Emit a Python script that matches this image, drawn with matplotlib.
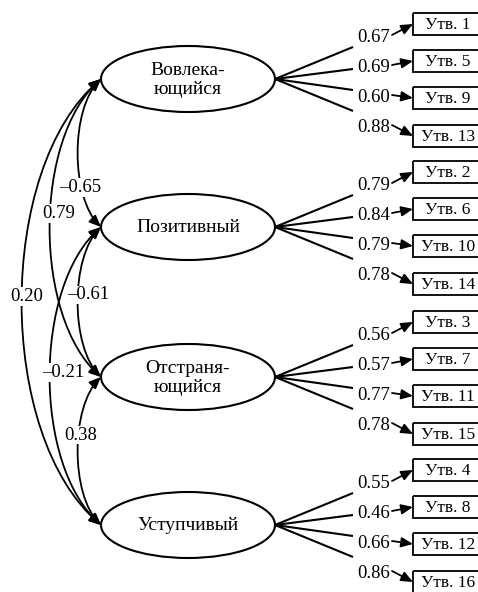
import matplotlib
matplotlib.use('Agg')
import matplotlib.pyplot as plt
from matplotlib.patches import Ellipse, Rectangle, FancyArrowPatch
from matplotlib.path import Path

plt.rcParams['font.family'] = ['Liberation Serif', 'DejaVu Serif']

# factors, items and loadings
factors = ['Вовлека-\nющийся', 'Позитивный', 'Отстраня-\nющийся', 'Уступчивый']
items = [[1, 5, 9, 13], [2, 6, 10, 14], [3, 7, 11, 15], [4, 8, 12, 16]]
loadings = [[0.67, 0.69, 0.60, 0.88],
            [0.79, 0.84, 0.79, 0.78],
            [0.56, 0.57, 0.77, 0.78],
            [0.55, 0.46, 0.66, 0.86]]

# correlations between factors: (from, to, value)
corr_from = [0, 0, 0, 1, 1, 2]
corr_to = [1, 2, 3, 2, 3, 3]
corr_vals = [-0.65, 0.79, 0.20, -0.61, -0.21, 0.38]

# layout (pixels)
cx, ew, eh = 188, 174, 66
cys = [79, 227, 377, 525]
fan_end = [-32, -10, 11, 32]
lab_off = [-42, -12, 18, 48]
box_off = [-55, -18, 19, 57]
box_x, box_h = 413, 22
left_x = cx - ew / 2
# leftmost x of each curve, label position along curve (t) and x shift
curve_min = [78, 50, 22, 78, 50, 78]
lab_t = [0.70, 0.46, 0.49, 0.46, 0.49, 0.41]
lab_dx = [-1, 8, 5, 10, 13, 2]


def fmt(v):
    s = f'{abs(v):.2f}'
    return ('\u2013' + s) if v < 0 else s


def bez(verts, t):
    w = [(1 - t) ** 3, 3 * t * (1 - t) ** 2, 3 * t ** 2 * (1 - t), t ** 3]
    return (sum(c * v[0] for c, v in zip(w, verts)),
            sum(c * v[1] for c, v in zip(w, verts)))


fig = plt.figure(figsize=(4.78, 5.92), dpi=100)
ax = fig.add_axes([0, 0, 1, 1])
ax.set_xlim(0, 478)
ax.set_ylim(592, 0)
ax.axis('off')

for i, name in enumerate(factors):
    cy = cys[i]
    ax.add_patch(Ellipse((cx, cy), ew, eh, fill=False, lw=1.5, ec='black'))
    ax.text(cx, cy + 1, name, ha='center', va='center', fontsize=14,
            linespacing=1.2)
    for j in range(4):
        ax.plot([cx + ew / 2, 353], [cy, cy + fan_end[j]], color='black', lw=1.5,
                solid_capstyle='butt')
        ly = cy + lab_off[j]
        by = cy + box_off[j]
        ax.text(357, ly, f'{loadings[i][j]:.2f}', ha='left', va='center',
                fontsize=13.5)
        ax.annotate('', xy=(box_x, by), xytext=(392, ly - 2),
                    arrowprops=dict(arrowstyle='-|>,head_length=0.7,head_width=0.3',
                                    lw=1.3, color='black', shrinkA=0, shrinkB=0,
                                    mutation_scale=10))
        ax.add_patch(Rectangle((box_x, by - box_h / 2), 80, box_h, fill=False,
                               lw=1.3, ec='black', clip_on=False))
        ax.text(448, by + 1, f'Утв. {items[i][j]}', ha='center', va='center',
                fontsize=12.5)

for k in range(len(corr_vals)):
    y1, y2 = cys[corr_from[k]], cys[corr_to[k]]
    dy = y2 - y1
    xc = (8 * curve_min[k] - 2 * left_x) / 6
    verts = [(left_x, y1), (xc, y1 + 0.2 * dy), (xc, y2 - 0.2 * dy), (left_x, y2)]
    path = Path(verts, [Path.MOVETO, Path.CURVE4, Path.CURVE4, Path.CURVE4])
    ax.add_patch(FancyArrowPatch(path=path,
                                 arrowstyle='<|-|>,head_length=0.7,head_width=0.3',
                                 mutation_scale=10, lw=1.3, color='black'))
    px, py = bez(verts, lab_t[k])
    ax.text(px + lab_dx[k], py, fmt(corr_vals[k]), ha='center', va='center',
            fontsize=13.5, zorder=5,
            bbox=dict(fc='white', ec='none', pad=0.5))

fig.savefig('out.png', dpi=100)
